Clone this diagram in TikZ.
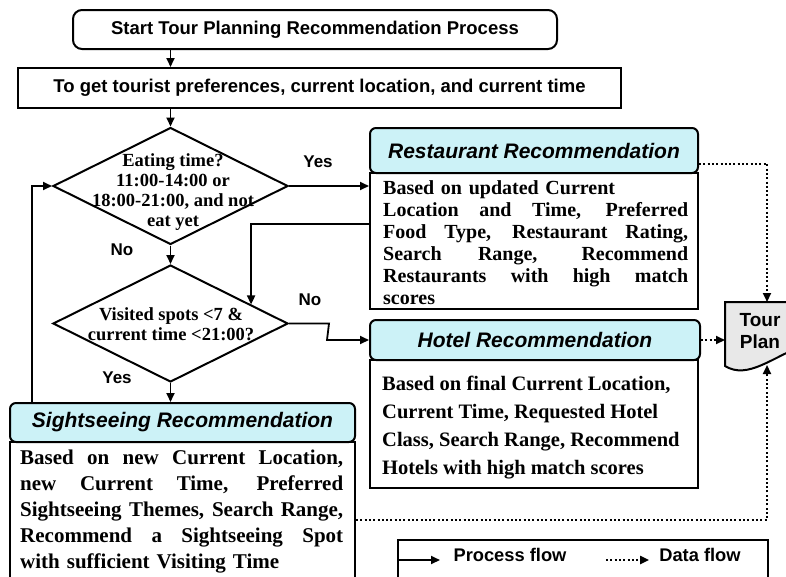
\documentclass[tikz,border=0pt]{standalone}
\usepackage{fontspec}
\setmainfont{Liberation Serif}
\newfontfamily\arial{Liberation Sans}
\usetikzlibrary{shapes.geometric,arrows.meta,calc}
\definecolor{headcyan}{RGB}{204,242,247}
\definecolor{plangray}{RGB}{232,232,232}
% one justified line stretched to the full text width
\newcommand\fullline[1]{\makebox[\hsize][s]{\spaceskip=0pt\xspaceskip=0pt #1}}
\tikzset{
  boxline/.style={draw=black, line width=2pt},
  titlebox/.style={boxline, rounded corners=9pt, inner sep=0pt,
    font=\arial\bfseries\fontsize{18.5}{22}\selectfont},
  stepbox/.style={boxline, inner sep=0pt,
    font=\arial\bfseries\fontsize{18.5}{22}\selectfont},
  decision/.style={diamond, boxline, inner sep=0pt, minimum width=235pt, minimum height=117pt},
  dectext/.style={align=center, inner sep=0pt, font=\bfseries\fontsize{18.5}{20}\selectfont},
  recohead/.style={boxline, fill=headcyan, rounded corners=6pt, inner sep=0pt,
    font=\arial\bfseries\itshape\fontsize{21}{24}\selectfont},
  recobody/.style={boxline, fill=white, inner sep=0pt},
  bodytext/.style={anchor=north west, inner sep=0pt, align=left},
  lbl/.style={inner sep=0pt, font=\arial\bfseries\fontsize{17}{20}\selectfont},
  flow/.style={line width=1.8pt, -{Triangle[length=9pt,width=8pt]}},
  data/.style={line width=2pt, dash pattern=on 2pt off 2.3pt, -{Triangle[length=9pt,width=8pt]}},
}
\begin{document}
\begin{tikzpicture}[x=1pt,y=-1pt]
\useasboundingbox (0,0) rectangle (786,576);
\clip (0,0) rectangle (786,576);
\fill[white] (0,0) rectangle (786,576);

% process start and input
\node[titlebox, minimum width=484pt, minimum height=39pt] (start) at (315,29.5)
  {Start Tour Planning Recommendation Process};
\node[stepbox, minimum width=603pt, minimum height=40pt] (get) at (319.5,88)
  {To get tourist preferences, current location, and current time};

% decisions
\node[decision] (d1) at (170.5,186) {};
\node[dectext] (d1q) at (173,192) {Eating time?\\11:00-14:00 or\\18:00-21:00, and not\\eat yet};
\node[decision] (d2) at (170.5,323.5) {};
\node[dectext] (d2q) at (171,324) {Visited spots <7 \&\\current time <21:00?};

% restaurant recommendation
\node[recobody, minimum width=328pt, minimum height=136pt] (rbody) at (534,241) {};
\node[recohead, minimum width=328pt, minimum height=45pt] (rhead) at (534,150.5)
  {Restaurant Recommendation};
\node[bodytext, text width=305pt, font=\bfseries\fontsize{20}{22}\selectfont] (rtext) at (383,180)
  {Based on updated Current\\
   \fullline{Location and Time, Preferred}\\
   \fullline{Food Type, Restaurant Rating,}\\
   \fullline{Search Range, Recommend}\\
   \fullline{Restaurants with high match}\\
   scores};

% hotel recommendation
\node[recobody, minimum width=328pt, minimum height=128pt] (hbody) at (534,424) {};
\node[recohead, minimum width=330pt, minimum height=40pt] (hhead) at (535,340)
  {Hotel Recommendation};
\node[bodytext, font=\bfseries\fontsize{20.5}{28}\selectfont] (htext) at (382,376)
  {Based on final Current Location,\\Current Time, Requested Hotel\\Class, Search Range, Recommend\\Hotels with high match scores};

% sightseeing recommendation
\node[recobody, minimum width=345pt, minimum height=160pt] (sbody) at (182.5,522) {};
\node[recohead, minimum width=345pt, minimum height=39pt] (shead) at (182.5,422.5)
  {Sightseeing Recommendation};
\node[bodytext, text width=323pt, font=\bfseries\fontsize{21}{26}\selectfont] (stext) at (20,450)
  {\fullline{Based on new Current Location,}\\
   \fullline{new Current Time, Preferred}\\
   \fullline{Sightseeing Themes, Search Range,}\\
   \fullline{Recommend a Sightseeing Spot}\\
   with sufficient Visiting Time};

% tour plan document
\draw[boxline, fill=plangray] (725,302) -- (805,302) -- (805,345)
  .. controls (772,357) and (748,380) .. (725,366) -- cycle;
\node[align=center, inner sep=0pt, font=\arial\bfseries\fontsize{19}{22}\selectfont] (plan) at (760,331) {Tour\\Plan};
\coordinate (plantop) at (767,302);
\coordinate (planleft) at (725,340);
\coordinate (planbot) at (767,365);

% branch labels
\node[lbl] (yes1) at (318,162) {Yes};
\node[lbl] (no1) at (122,250) {No};
\node[lbl] (no2) at (310,300) {No};
\node[lbl] (yes2) at (117,378) {Yes};

% process flow
\coordinate (loopx) at (32,0);
\coordinate (d2hit) at ($(d2.north)!0.68!(d2.east)$);
\draw[flow] (start.south -| d1.north) -- (get.north -| d1.north);
\draw[flow] (get.south -| d1.north) -- (d1.north);
\draw[flow] (d1.east) -- (d1.east -| rbody.west);
\draw[flow] (d1.south) -- (d2.north);
\draw[flow] (d2.south) -- (shead.north -| d2.south);
\draw[flow] (shead.north -| loopx) |- (d1.west);
\draw[flow] ($(rbody.north west)+(0,52)$) -| (d2hit);
\draw[flow] (d2.east) -- ++(40,0) coordinate (jog)
  -- ($(jog |- hhead.west)+(-2,0)$) -- (hhead.west);

% data flow
\draw[data] ($(rhead.east)+(0,13)$) -| (plantop);
\draw[data] (hhead.east) -- (planleft);
\draw[data] ($(shead.south east)+(0,77)$) -| (planbot);

% legend
\node[boxline, anchor=north west, minimum width=370pt, minimum height=70pt] (legend) at (397,539) {};
\node[lbl, font=\arial\bfseries\fontsize{18.3}{20}\selectfont] (pftext) at (510,555) {Process flow};
\node[lbl, font=\arial\bfseries\fontsize{18.3}{20}\selectfont] (dftext) at (700,555) {Data flow};
\draw[flow] ($(legend.north west)+(0,21)$) -- ++(43,0);
\draw[data] ($(dftext.west)+(-53,5)$) -- ($(dftext.west)+(-10,5)$);
\end{tikzpicture}
\end{document}
